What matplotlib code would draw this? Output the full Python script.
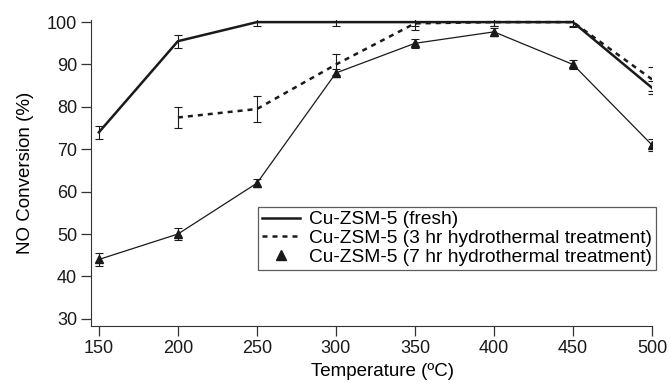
import numpy as np
import matplotlib
matplotlib.use('Agg')
import matplotlib.pyplot as plt
from matplotlib.lines import Line2D

plt.rcParams['font.family'] = ['Liberation Sans', 'DejaVu Sans']

# Datos
temperature = [150, 200, 250, 300, 350, 400, 450, 500]

fresh = [74, 95.5, 100, 100, 100, 100, 100, 84.5]
fresh_err = [1.5, 1.5, 1.0, 1.0, 1.0, 1.0, 1.2, 1.5]

temp_3hr = [200, 250, 300, 350, 400, 450, 500]
hr3 = [77.5, 79.5, 90, 99.7, 100, 100, 86.5]
hr3_err = [2.5, 3.0, 2.5, 1.5, 1.0, 1.0, 2.8]

hr7 = [44, 50, 62, 88, 95, 97.7, 90, 71]
hr7_err = [1.5, 1.5, 1.0, 1.0, 1.0, 1.0, 1.0, 1.5]

labels = ['Cu-ZSM-5 (fresh)',
          'Cu-ZSM-5 (3 hr hydrothermal treatment)',
          'Cu-ZSM-5 (7 hr hydrothermal treatment)']

fig = plt.figure(figsize=(6.71, 3.83), dpi=100)
ax = fig.add_axes([0.1356, 0.1488, 0.8361, 0.799])

# SERIES
ax.errorbar(temperature, fresh, yerr=fresh_err, color='#1a1a1a', lw=1.8,
            capsize=3, elinewidth=0.8, capthick=0.8)
ax.errorbar(temp_3hr, hr3, yerr=hr3_err, color='#1a1a1a', lw=1.8, linestyle=(0, (2, 2)),
            capsize=3, elinewidth=0.8, capthick=0.8)
ax.errorbar(temperature, hr7, yerr=hr7_err, color='#1a1a1a', lw=0.9, marker='^', markersize=6,
            capsize=3, elinewidth=0.8, capthick=0.8)

# CONFIGURACION
ax.set_xlim(145, 500)
ax.set_ylim(28.3, 100.5)
ax.set_xticks([150, 200, 250, 300, 350, 400, 450, 500])
ax.set_yticks([30, 40, 50, 60, 70, 80, 90, 100])
ax.spines['top'].set_visible(False)
ax.spines['right'].set_visible(False)
ax.spines['left'].set_color('#333333')
ax.spines['bottom'].set_color('#333333')
ax.tick_params(direction='out', length=7, width=0.9, labelsize=13, colors='#333333',
               labelcolor='#1a1a1a', pad=3)
ax.set_xlabel('Temperature (ºC)', fontsize=13.5, labelpad=0)
ax.xaxis.set_label_coords(0.52, -0.12)
ax.set_ylabel('NO Conversion (%)', fontsize=13.5, labelpad=9)

handles = [Line2D([], [], color='#1a1a1a', lw=1.8),
           Line2D([], [], color='#1a1a1a', lw=1.8, linestyle=(0, (2, 2))),
           Line2D([], [], color='#1a1a1a', linestyle='none', marker='^', markersize=7)]
leg = ax.legend(handles, labels, loc='upper left', bbox_to_anchor=(0.298, 0.389),
                fontsize=13.8, frameon=True, fancybox=False, edgecolor='#333333',
                handlelength=2.0, handletextpad=0.45, borderpad=0.2, labelspacing=0.08,
                borderaxespad=0)
leg.get_frame().set_linewidth(0.9)

plt.savefig('out.png', dpi=100)
